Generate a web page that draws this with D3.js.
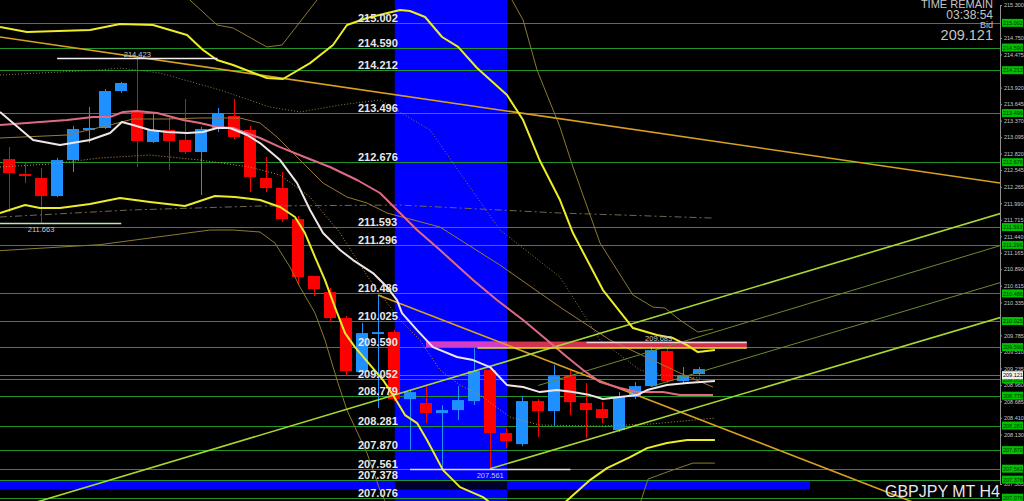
<!DOCTYPE html>
<html><head><meta charset="utf-8">
<script src="https://cdn.jsdelivr.net/npm/d3@7"></script>
<style>
html,body{margin:0;padding:0;background:#000;overflow:hidden}
svg{display:block}
</style></head><body>
<svg id="c" width="1024" height="501"></svg>
<script>
// ---------- DATA ----------
// candles: [open, high, low, close] (GBPJPY H4)
const candles = [
 [212.729,212.929,211.844,212.495],[212.479,212.662,212.328,212.445],[212.412,212.579,211.663,212.111],
 [212.111,212.746,212.095,212.712],[212.712,213.280,212.512,213.230],[213.213,213.597,212.996,213.247],
 [213.247,213.898,213.230,213.864],[213.864,214.015,213.831,213.998],[213.530,214.423,212.596,213.030],
 [213.013,213.480,212.996,213.213],[213.213,213.414,212.545,213.030],[213.046,213.731,212.813,212.846],
 [212.846,213.263,212.128,213.230],[213.247,213.580,213.180,213.497],[213.447,213.731,213.063,213.096],
 [213.213,213.280,212.178,212.429],[212.412,212.762,212.178,212.245],[212.245,212.512,211.677,211.727],
 [211.727,211.777,210.626,210.759],[210.776,210.776,210.442,210.559],[210.509,210.576,210.008,210.075],
 [210.075,210.108,209.106,209.190],[209.173,209.991,209.123,209.824],[209.808,210.459,208.572,209.841],
 [209.841,209.874,208.689,208.722],[208.722,208.872,207.871,208.839],[208.656,208.939,208.322,208.489],
 [208.489,208.622,207.587,208.539],[208.539,208.939,208.372,208.706],[208.689,209.574,208.622,209.190],
 [209.207,209.240,207.561,208.155],[208.155,208.238,207.904,208.021],[207.971,208.772,207.938,208.689],
 [208.689,208.722,208.088,208.522],[208.522,209.290,208.289,209.106],[209.106,209.207,208.455,208.672],
 [208.656,208.989,208.071,208.539],[208.555,208.672,208.322,208.405],[208.205,208.839,208.171,208.756],
 [208.756,209.006,208.722,208.939],[208.939,209.607,208.939,209.540],[209.524,209.607,208.989,209.023],
 [209.023,209.257,208.989,209.123],[209.140,209.257,209.106,209.223]
];
// horizontal levels (green lines with labels)
const levels = [215.002,214.590,214.212,213.496,212.676,211.593,211.296,210.486,210.025,209.590,209.052,208.779,208.281,207.870,207.561,207.378,207.076];
// right price axis ticks
const axisTicks = [215.300,214.750,214.475,213.920,213.645,213.370,213.095,212.820,212.545,212.265,211.990,211.715,211.440,211.165,210.890,210.615,210.335,209.785,209.510,209.235,208.960,208.685,208.410,208.130,207.305];
const bid = 209.121;
const symbolLabel = "GBPJPY  MT H4";
const infoLines = ["TIME REMAIN","03:38:54","Bid","209.121"];
// time ranges (bar index) and prices of rectangles
const bandBars = [24.05, 31.05];
const bottomBarBars = [-1, 49.94];
const bottomBarPrices = [207.212, 207.370];
const zoneBars = [26, 46];
const zonePrices = [209.575, 209.683];
// marked prices: [fromBar, toBar, price, labelBar]
const markHigh = [3, 13, 214.423, 8];
const markLow1 = [-1, 7, 211.663, 2];
const markLow2 = [25, 35, 207.561, 30];
const markZone = [36, 46, 209.683, 40.5];
const zoneYellow = [29.2, 46, 209.575];
// trend lines [bar, price]
const trendDownLong = [[-0.56,214.766],[61.78,212.329]];
const trendDownShort = [[23.0,210.459],[61.78,206.441]];
const upLine1 = [[1.0,206.946],[61.91,211.828]];
const upLine2 = [[29.99,207.561],[61.91,210.092]];
const upLine3 = [[33.0,208.95],[61.91,211.293]];
const upLine4 = [[40.0,208.93],[61.91,210.675]];
// indicator series [bar, price]
const bbUpperThick = [[-0.56,214.933],[1.12,214.849],[5.05,214.883],[6.92,214.983],[8.98,214.966],[11.1,214.8],[12.09,214.55],[12.97,214.382],[13.97,214.298],[16.08,214.081],[17.08,214.065],[18.77,214.33],[20.2,214.632],[21.07,214.966],[22.32,215.083],[24.38,215.216],[25.0,215.2],[25.94,215.1],[27.0,214.766],[28.0,214.6],[29.18,214.248],[31.05,213.797],[32.05,213.38],[33.1,212.7],[34.35,212.045],[35.16,211.494],[37.03,210.542],[38.9,209.908],[40.4,209.791],[41.4,209.741],[42.27,209.624],[42.95,209.507],[44.01,209.540]];
const bbLowerThick = [[-0.56,211.828],[1.0,211.961],[1.93,211.911],[3.18,211.911],[5.05,211.978],[6.92,212.078],[8.79,212.011],[10.97,211.945],[12.84,212.111],[14.09,212.095],[15.65,212.045],[16.9,211.928],[17.83,211.761],[18.45,211.494],[19.08,211.093],[19.7,210.709],[20.32,210.258],[20.95,209.824],[21.57,209.590],[23.32,209.040],[23.94,208.789],[24.69,208.455],[25.44,208.322],[26.06,208.038],[27.06,207.537],[28.12,207.253],[29.55,207.086],[30.61,206.869],[33.42,206.702],[36.22,207.370],[37.28,207.571],[38.72,207.754],[39.78,207.904],[41.02,207.988],[42.27,208.038],[44.01,208.038]];
const outerUpperA = [[10.35,215.717],[11.28,215.383],[12.97,214.966],[13.97,214.916],[16.08,214.599],[17.02,214.632],[18.14,215.016],[19.2,215.383],[20.01,215.717]];
const outerUpperB = [[30.61,215.717],[31.36,215.383],[32.05,215.05],[32.92,214.215],[34.35,213.263],[35.16,212.596],[36.85,211.327],[38.9,210.459],[40.15,210.258],[40.9,210.242],[41.83,210.041],[42.95,209.841],[43.89,209.891]];
const outerLowerA = [[-0.56,211.2],[5.67,211.3],[12.53,211.544],[13.97,211.544],[15.65,211.511],[16.58,211.327],[17.52,210.926],[18.14,210.592],[19.08,210.158],[19.7,209.707],[20.45,209.040],[21.07,208.539],[22.32,207.821],[23.13,207.203],[24.0,206.7]];
const outerLowerB = [[39.0,206.7],[39.84,207.387],[41.02,207.504],[42.27,207.621],[42.64,207.654],[44.01,207.654]];
const maTan = [[-0.56,213.08],[3.62,213.13],[6.3,213.297],[7.73,213.397],[9.85,213.397],[11.91,213.414],[14.4,213.414],[15.65,213.33],[16.71,213.096],[18.33,212.662],[19.58,212.328],[21.07,212.095],[22.32,211.995],[23.57,211.828],[26.87,211.594],[30.61,210.959],[34.35,210.258],[37.47,209.707],[41.83,209.157],[43.89,208.923]];
const maLong = [[-0.56,211.761],[7.54,211.878],[15.65,211.945],[24.38,211.961],[34.35,211.828],[43.89,211.744]];
const dotUpper = [[-0.56,214.131],[5.67,214.215],[6.92,214.248],[9.41,214.165],[13.15,213.881],[16.27,213.597],[18.14,213.514],[20.64,213.631],[23.13,213.714],[24.38,213.514],[26.25,213.213],[30.61,211.544],[34.35,210.759],[36.85,209.707],[39.34,209.207],[40.77,209.123],[43.08,209.073]];
const dotLower = [[-0.56,212.596],[2.56,212.646],[5.67,212.746],[8.79,212.796],[11.91,212.712],[15.02,212.596],[16.9,212.462],[18.77,212.095],[20.64,211.494],[22.5,210.709],[24.38,210.041],[25.62,209.707],[26.87,209.207],[28.12,208.956],[29.36,208.789],[31.24,208.422],[33.1,208.288],[36.85,208.272],[39.96,208.305],[44.01,208.405]];
const maFast = [[-0.56,213.514],[1.5,213.046],[3.18,212.963],[5.05,213.046],[6.3,213.163],[7.04,213.347],[7.73,213.297],[8.79,213.213],[9.85,213.18],[11.1,213.163],[12.09,213.18],[12.97,213.247],[13.78,213.247],[14.84,213.13],[15.65,212.996],[16.9,212.712],[17.96,212.328],[18.77,211.878],[19.58,211.494],[20.64,211.21],[21.45,211.043],[22.69,210.826],[23.57,210.592],[24.19,210.375],[24.5,210.158],[25.44,209.874],[26.43,209.590],[27.93,209.424],[28.93,209.373],[29.99,209.257],[31.05,208.956],[32.05,208.923],[33.1,208.839],[34.16,208.873],[35.16,208.839],[36.22,208.789],[37.03,208.723],[38.09,208.756],[39.15,208.789],[39.78,208.873],[41.02,208.956],[42.27,208.99],[44.01,209.023]];
const maMid = [[-0.56,213.297],[3.62,213.38],[5.24,213.43],[6.3,213.43],[7.11,213.514],[7.98,213.530],[9.23,213.497],[10.85,213.38],[11.91,213.33],[12.97,213.263],[13.97,213.247],[15.65,213.08],[16.9,212.929],[18.58,212.746],[20.01,212.596],[21.7,212.379],[23.13,212.162],[24.19,211.878],[25.44,211.544],[26.87,211.21],[28.93,210.709],[30.42,210.375],[32.05,210.041],[33.54,209.707],[34.79,209.424],[35.79,209.207],[36.85,209.006],[38.09,208.906],[39.15,208.839],[40.77,208.839],[41.83,208.789],[43.89,208.789]];

// ---------- CHART ----------
const W=1024,H=501,plotRight=1000;
const svg=d3.select('#c');
svg.append('rect').attr('width',W).attr('height',H).attr('fill','#000');
const x=d3.scaleLinear().domain([0,62]).range([9,9+16.04*62]);
const y=d3.scaleLinear().domain([207.305,215.3]).range([484,5]);
svg.append('defs').append('clipPath').attr('id','plot').append('rect').attr('x',0).attr('y',0).attr('width',plotRight).attr('height',H);
const g=svg.append('g').attr('clip-path','url(#plot)');
const FONT='"Liberation Sans", Arial, sans-serif';

// band
const bx0=x(bandBars[0]), bx1=x(bandBars[1]);
g.append('rect').attr('x',bx0).attr('y',0).attr('width',bx1-bx0).attr('height',H).attr('fill','#0000ff');
// rectangles drawn XOR-style against the band
function xorRect(bars,prices,col,overCol){
  const x0=x(bars[0]),x1=x(bars[1]),y0=y(prices[1]),y1=y(prices[0]);
  g.append('rect').attr('x',x0).attr('y',y0).attr('width',x1-x0).attr('height',y1-y0).attr('fill',col);
  const o0=Math.max(x0,bx0),o1=Math.min(x1,bx1);
  if(o1>o0) g.append('rect').attr('x',o0).attr('y',y0).attr('width',o1-o0).attr('height',y1-y0).attr('fill',overCol);
}
xorRect(bottomBarBars,bottomBarPrices,'#0000ff','#00002a');
xorRect(zoneBars,zonePrices,'#d2344e','#d23cc8');

// level lines
levels.forEach(v=>{
  const yy=Math.round(y(v))+0.5;
  g.append('line').attr('x1',0).attr('x2',plotRight).attr('y1',yy).attr('y2',yy).attr('stroke','#22962a').attr('stroke-width',1);
});
// bid line
g.append('line').attr('x1',0).attr('x2',plotRight).attr('y1',Math.round(y(bid))+0.5).attr('y2',Math.round(y(bid))+0.5).attr('stroke','#6a6a6a');

// candles
const bull='#1e90ff', bear='#ff0000';
candles.forEach((c,i)=>{
  const [o,h,l,cl]=c; const col=cl>=o?bull:bear; const cx=Math.round(x(i));
  g.append('line').attr('x1',cx+0.5).attr('x2',cx+0.5).attr('y1',y(h)).attr('y2',y(l)).attr('stroke',col);
  const top=y(Math.max(o,cl)), bot=y(Math.min(o,cl));
  g.append('rect').attr('x',cx-6).attr('y',top).attr('width',12).attr('height',Math.max(1.5,bot-top)).attr('fill',col);
});

const line=d3.line().x(d=>x(d[0])).y(d=>y(d[1]));
function path(data,stroke,w,dash){
  const p=g.append('path').attr('d',line(data)).attr('fill','none').attr('stroke',stroke).attr('stroke-width',w).attr('stroke-linejoin','round');
  if(dash) p.attr('stroke-dasharray',dash);
}
path(maLong,'#6e6850',1,'7,3,2,3');
path(outerUpperA,'#8a7a2e',1); path(outerUpperB,'#8a7a2e',1);
path(outerLowerA,'#8a7a2e',1); path(outerLowerB,'#8a7a2e',1);
path(maTan,'#9a7a3a',1);
path(dotUpper,'#8a8040',1,'1,2');
path(dotLower,'#c09040',1,'1,2');
path(trendDownLong,'#d8a020',1.6);
path(trendDownShort,'#d8a020',1.6);
path(upLine3,'#6a8a30',1); path(upLine4,'#6a8a30',1);
path(upLine1,'#a8d830',1.6); path(upLine2,'#a8d830',1.6);
path(maMid,'#e06a86',2);
path(maFast,'#f0e6e6',2);
path(bbUpperThick,'#ecec28',2);
path(bbLowerThick,'#ecec28',2);

// zone marks
g.append('line').attr('x1',x(zoneYellow[0])).attr('x2',x(zoneYellow[1])).attr('y1',y(zoneYellow[2])).attr('y2',y(zoneYellow[2])).attr('stroke','#f0e020').attr('stroke-width',1.5);
function mark(m,col,above){
  const yy=Math.round(y(m[2]))+0.5;
  g.append('line').attr('x1',x(m[0])).attr('x2',x(m[1])).attr('y1',yy).attr('y2',yy).attr('stroke',col).attr('stroke-width',1.5);
  g.append('text').attr('x',x(m[3])).attr('y',above?yy-2:yy+8).attr('text-anchor','middle').attr('fill','#c8c8c8').attr('font-family',FONT).attr('font-size',7.5).text(m[2].toFixed(3));
}
mark(markHigh,'#f0f0f0',true);
mark(markLow1,'#b8e8b0',false);
mark(markLow2,'#e0e0e0',false);
mark(markZone,'#f4d0d8',true);

// level labels
levels.forEach(v=>{
  g.append('text').attr('x',358).attr('y',Math.round(y(v))-1).attr('fill','#e8e8e8').attr('font-family',FONT).attr('font-size',11).attr('font-weight','bold').text(v.toFixed(3));
});

// right axis
const ax=svg.append('g').attr('transform',`translate(${plotRight},0)`).call(d3.axisRight(y).tickValues(axisTicks).tickSize(2).tickFormat(d3.format('.3f')));
ax.select('.domain').attr('stroke','#909090');
ax.selectAll('.tick line').attr('stroke','#909090');
ax.selectAll('.tick text').attr('fill','#c8c8c8').attr('font-family',FONT).attr('font-size',5.5).attr('x',4);
levels.forEach(v=>{
  const yy=y(v);
  svg.append('rect').attr('x',plotRight+2).attr('y',yy-4).attr('width',21).attr('height',8).attr('fill','#00c000');
  svg.append('text').attr('x',plotRight+3).attr('y',yy+2.2).attr('fill','#003000').attr('font-family',FONT).attr('font-size',5.5).text(v.toFixed(3));
});
svg.append('rect').attr('x',plotRight+2).attr('y',y(bid)-4).attr('width',21).attr('height',8).attr('fill','#f0f0f0');
svg.append('text').attr('x',plotRight+3).attr('y',y(bid)+2.2).attr('fill','#000').attr('font-family',FONT).attr('font-size',5.5).text(bid.toFixed(3));

// info texts
const info=[[infoLines[0],8,11],[infoLines[1],19,12],[infoLines[2],28,9],[infoLines[3],40,14.5]];
info.forEach(([t,yy,fs])=>{
  svg.append('text').attr('x',993).attr('y',yy).attr('text-anchor','end').attr('fill','#c4c4c4').attr('font-family',FONT).attr('font-size',fs).text(t);
});
svg.append('text').attr('x',1000).attr('y',497).attr('text-anchor','end').attr('fill','#e8e8e8').attr('font-family',FONT).attr('font-size',16).text(symbolLabel);
</script>
</body></html>
